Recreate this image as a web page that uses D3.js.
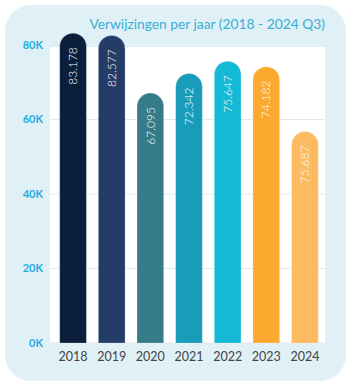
<!DOCTYPE html>
<html>
<head>
<meta charset="utf-8">
<script src="https://cdn.jsdelivr.net/npm/d3@7"></script>
<style>
  html, body { margin: 0; padding: 0; background: #fff; }
  svg { display: block; }
</style>
</head>
<body>
<svg id="chart" width="353" height="383"></svg>
<script>
// data
const years = ["2018", "2019", "2020", "2021", "2022", "2023", "2024"]
// 2024 bar shows count up to Q3, label shows the full-year projection
const values = [83178, 82577, 67095, 72342, 75647, 74182, 56765]
const valueLabels = ["83.178", "82.577", "67.095", "72.342", "75.647", "74.182", "75.687"]
const colors = ["#0b1f3c", "#233d68", "#367c88", "#189cba", "#14b9d6", "#fba92f", "#fcbb60"]
const yTicks = [0, 20000, 40000, 60000, 80000]
const title = "Verwijzingen per jaar (2018 - 2024 Q3)"

const svg = d3.select("#chart")
const font = "Lato, 'Open Sans', sans-serif"

// outer light-blue card
svg.append("rect").attr("x", 5).attr("y", 5).attr("width", 341).attr("height", 376)
  .attr("rx", 26).attr("fill", "#dff0f7")

// white plot panel
const panel = { left: 50, right: 325, top: 47, bottom: 343 }
svg.append("rect").attr("x", panel.left).attr("y", panel.top)
  .attr("width", panel.right - panel.left).attr("height", panel.bottom - panel.top)
  .attr("fill", "#fff")

const x = d3.scaleBand().domain(years).range([52, 326]).paddingInner(0.31).paddingOuter(0.2)
const y = d3.scaleLinear().domain([0, 80000]).range([343, 45])

// gridlines
svg.append("g").selectAll("line").data(yTicks.filter((d) => d < 80000)).enter().append("line")
  .attr("x1", panel.left).attr("x2", panel.right)
  .attr("y1", (d) => y(d)).attr("y2", (d) => y(d))
  .attr("stroke", "#e6e9ec").attr("stroke-width", 1)

// y tick labels
svg.append("g").selectAll("text").data(yTicks).enter().append("text")
  .attr("x", 43).attr("y", (d) => y(d)).attr("dy", "0.35em")
  .attr("text-anchor", "end").attr("font-family", font).attr("font-weight", 700)
  .attr("font-size", 11).attr("fill", "#22aee0")
  .text((d) => d / 1000 + "K")

// bars: rounded top, flat bottom
const bw = x.bandwidth()
const r = bw / 2
svg.append("g").selectAll("path").data(years).enter().append("path")
  .attr("d", (d, i) => {
    const x0 = x(d), x1 = x0 + bw, yt = y(values[i]), yb = y(0)
    return `M${x0},${yb} L${x0},${yt + r} A${r},${r} 0 0 1 ${x1},${yt + r} L${x1},${yb} Z`
  })
  .attr("fill", (d, i) => colors[i])
  .attr("stroke", "rgba(255,255,255,0.35)").attr("stroke-width", 0.6)

// value labels (rotated, inside bar)
svg.append("g").selectAll("text").data(years).enter().append("text")
  .attr("transform", (d, i) => `translate(${x(d) + bw / 2},${y(values[i]) + 14}) rotate(-90)`)
  .attr("text-anchor", "end").attr("dy", "0.35em")
  .attr("font-family", font).attr("font-weight", 300).attr("font-size", 12)
  .attr("fill", "#fff")
  .text((d, i) => valueLabels[i])

// x labels
svg.append("g").selectAll("text").data(years).enter().append("text")
  .attr("x", (d) => x(d) + bw / 2).attr("y", 361)
  .attr("text-anchor", "middle").attr("font-family", font).attr("font-size", 12.5)
  .attr("fill", "#444")
  .text((d) => d)

// title
svg.append("text").attr("x", 325).attr("y", 29).attr("text-anchor", "end")
  .attr("font-family", font).attr("font-size", 13.8).attr("fill", "#3aaed2")
  .text(title)
</script>
</body>
</html>
